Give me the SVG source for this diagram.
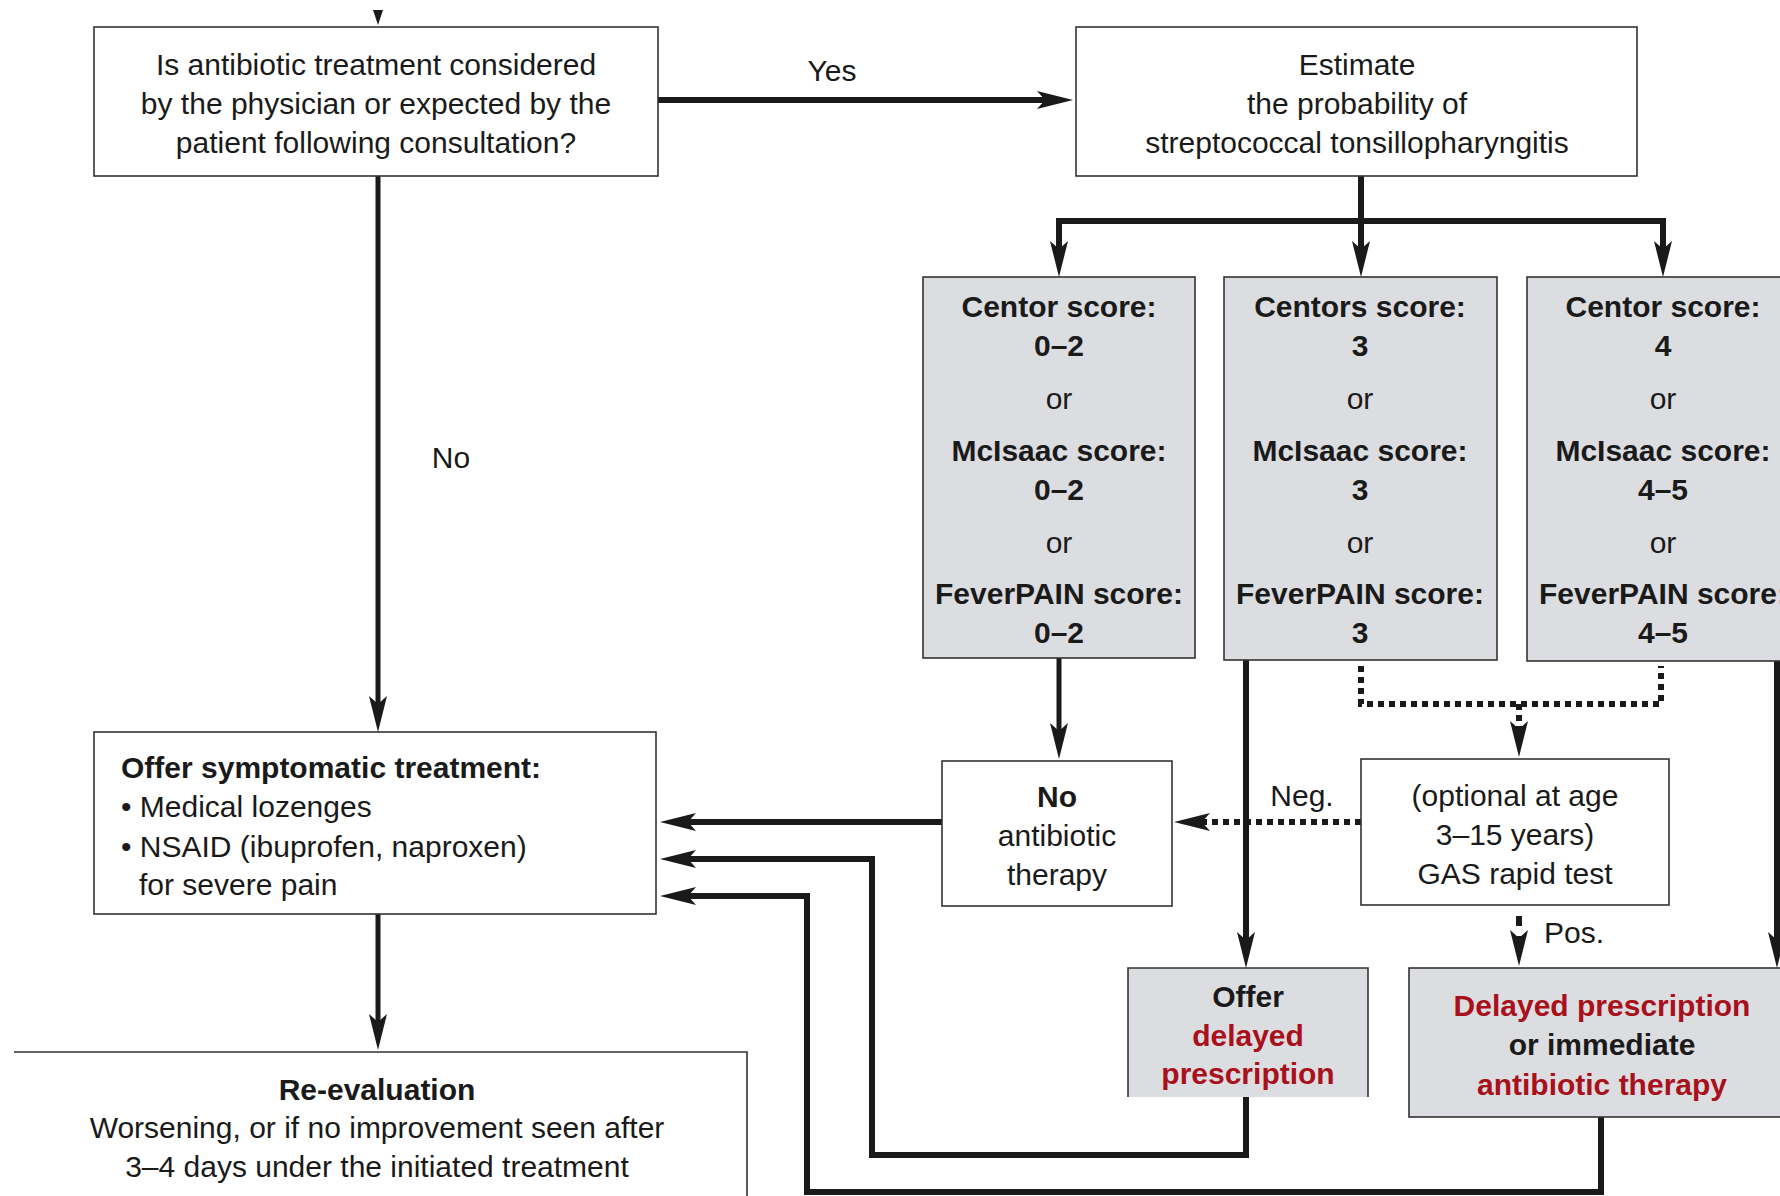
<svg xmlns="http://www.w3.org/2000/svg" width="1780" height="1196" viewBox="0 0 1780 1196">
<defs>
<marker id="ah" markerUnits="userSpaceOnUse" markerWidth="38" markerHeight="20" refX="8" refY="9" orient="auto" viewBox="0 0 38 20">
<path d="M0,0 L36,9 L0,18 L8,9 z" fill="#1a1a1a"/>
</marker>
<style>
.box{fill:#fff;stroke:#333;stroke-width:1.6}
.gbox{fill:#dcdde0;stroke:#333;stroke-width:1.6}
text{font-family:"Liberation Sans",Arial,sans-serif;font-size:30px;fill:#1a1a1a}
.c{text-anchor:middle}
.b{font-weight:bold}
.red{fill:#a8101c}
.ln{fill:none;stroke:#1a1a1a;stroke-width:6}
.ln5{fill:none;stroke:#1a1a1a;stroke-width:5}
.dot{fill:none;stroke:#1a1a1a;stroke-width:6;stroke-dasharray:6 5}
</style>
</defs>
<rect width="1780" height="1196" fill="#fff"/>

<g id="connectors">
<polygon points="373,10 383,10 378,25" fill="#1a1a1a"/>
<path class="ln" d="M658,100 H1045" marker-end="url(#ah)"/>
<path class="ln5" d="M378,176 V704" marker-end="url(#ah)"/>
<path class="ln" d="M1361,176 V221"/>
<path class="ln" d="M1059,221 H1663"/>
<path class="ln" d="M1059,218 V249" marker-end="url(#ah)"/>
<path class="ln" d="M1361,218 V249" marker-end="url(#ah)"/>
<path class="ln" d="M1663,218 V249" marker-end="url(#ah)"/>
<path class="ln5" d="M378,914 V1022" marker-end="url(#ah)"/>
<path class="ln5" d="M1059,658 V731" marker-end="url(#ah)"/>
<path class="ln" d="M942,822 H688" marker-end="url(#ah)"/>
<path class="ln" d="M1246,1097 V1155 H872 V859 H688" marker-end="url(#ah)"/>
<path class="ln" d="M1601,1117 V1192 H807 V896 H688" marker-end="url(#ah)"/>
<path class="ln" d="M1246,660 V940" marker-end="url(#ah)"/>
<path class="ln" d="M1777,661 V940" marker-end="url(#ah)"/>
<path class="dot" d="M1361,666 V704 H1661 V666"/>
<path class="dot" d="M1519,704 V729" marker-end="url(#ah)"/>
<path class="dot" d="M1361,822 H1202" marker-end="url(#ah)"/>
<path class="ln" d="M1519,916 V926"/>
<path class="ln" d="M1519,936 V938" marker-end="url(#ah)"/>
<text x="832" y="81" class="c">Yes</text>
<text x="451" y="468" class="c">No</text>
<text x="1302" y="806" class="c">Neg.</text>
<text x="1544" y="943">Pos.</text>
</g>

<g id="q">
<rect class="box" x="94" y="27" width="564" height="149"/>
<text x="376" y="75" class="c">Is antibiotic treatment considered</text>
<text x="376" y="114" class="c">by the physician or expected by the</text>
<text x="376" y="153" class="c">patient following consultation?</text>
</g>

<g id="estimate">
<rect class="box" x="1076" y="27" width="561" height="149"/>
<text x="1357" y="75" class="c">Estimate</text>
<text x="1357" y="114" class="c">the probability of</text>
<text x="1357" y="153" class="c">streptococcal tonsillopharyngitis</text>
</g>

<g id="score1">
<rect class="gbox" x="923" y="277" width="272" height="381"/>
<text x="1059" y="317" class="c b">Centor score:</text>
<text x="1059" y="356" class="c b">0–2</text>
<text x="1059" y="409" class="c">or</text>
<text x="1059" y="461" class="c b">McIsaac score:</text>
<text x="1059" y="500" class="c b">0–2</text>
<text x="1059" y="553" class="c">or</text>
<text x="1059" y="604" class="c b">FeverPAIN score:</text>
<text x="1059" y="643" class="c b">0–2</text>
</g>

<g id="score2">
<rect class="gbox" x="1224" y="277" width="273" height="383"/>
<text x="1360" y="317" class="c b">Centors score:</text>
<text x="1360" y="356" class="c b">3</text>
<text x="1360" y="409" class="c">or</text>
<text x="1360" y="461" class="c b">McIsaac score:</text>
<text x="1360" y="500" class="c b">3</text>
<text x="1360" y="553" class="c">or</text>
<text x="1360" y="604" class="c b">FeverPAIN score:</text>
<text x="1360" y="643" class="c b">3</text>
</g>

<g id="score3">
<rect class="gbox" x="1527" y="277" width="270" height="384"/>
<text x="1663" y="317" class="c b">Centor score:</text>
<text x="1663" y="356" class="c b">4</text>
<text x="1663" y="409" class="c">or</text>
<text x="1663" y="461" class="c b">McIsaac score:</text>
<text x="1663" y="500" class="c b">4–5</text>
<text x="1663" y="553" class="c">or</text>
<text x="1663" y="604" class="c b">FeverPAIN score:</text>
<text x="1663" y="643" class="c b">4–5</text>
</g>

<g id="symptomatic">
<rect class="box" x="94" y="732" width="562" height="182"/>
<text x="121" y="778" class="b">Offer symptomatic treatment:</text>
<text x="121" y="817">• Medical lozenges</text>
<text x="121" y="857">• NSAID (ibuprofen, naproxen)</text>
<text x="139" y="895">for severe pain</text>
</g>

<g id="reeval">
<path d="M14,1052 H747 V1196" fill="none" stroke="#333" stroke-width="1.6"/>
<text x="377" y="1100" class="c b">Re-evaluation</text>
<text x="377" y="1138" class="c">Worsening, or if no improvement seen after</text>
<text x="377" y="1177" class="c">3–4 days under the initiated treatment</text>
</g>

<g id="noab">
<rect class="box" x="942" y="761" width="230" height="145"/>
<text x="1057" y="807" class="c b">No</text>
<text x="1057" y="846" class="c">antibiotic</text>
<text x="1057" y="885" class="c">therapy</text>
</g>

<g id="gas">
<rect class="box" x="1361" y="759" width="308" height="146"/>
<text x="1515" y="806" class="c">(optional at age</text>
<text x="1515" y="845" class="c">3–15 years)</text>
<text x="1515" y="884" class="c">GAS rapid test</text>
</g>

<g id="delayed">
<rect x="1128" y="968" width="240" height="129" fill="#dcdde0"/>
<path d="M1128,1097 V968 H1368 V1097" fill="none" stroke="#333" stroke-width="1.6"/>
<text x="1248" y="1007" class="c b">Offer</text>
<text x="1248" y="1046" class="c b red">delayed</text>
<text x="1248" y="1084" class="c b red">prescription</text>
</g>

<g id="immediate">
<rect class="gbox" x="1409" y="968" width="390" height="149"/>
<text x="1602" y="1016" class="c b red">Delayed prescription</text>
<text x="1602" y="1055" class="c b">or immediate</text>
<text x="1602" y="1095" class="c b red">antibiotic therapy</text>
</g>
</svg>
